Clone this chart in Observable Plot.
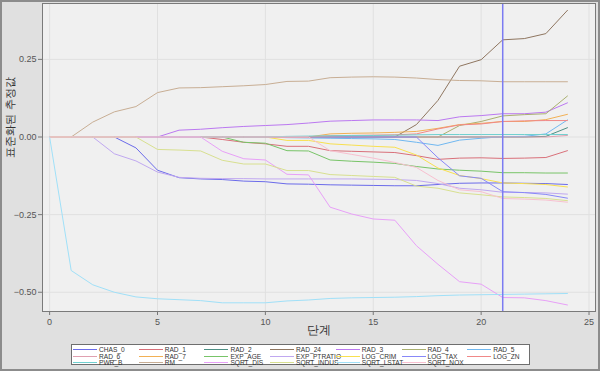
<!DOCTYPE html>
<html>
<head>
<meta charset="utf-8">
<script src="https://cdn.jsdelivr.net/npm/d3@7"></script>
<script src="https://cdn.jsdelivr.net/npm/@observablehq/plot@0.6"></script>
<style>
  html, body { margin: 0; padding: 0; }
  body { width: 600px; height: 371px; overflow: hidden; font-family: "Liberation Sans", Arial, sans-serif; }
  #wrap { position: relative; width: 600px; height: 371px; background: #e0e0e0; }
  #chart { position: absolute; left: 0; top: 0; }
  #border { position: absolute; left: 0; top: 0; width: 600px; height: 371px; box-sizing: border-box; border: 2px solid #8c8c8c; pointer-events: none; }
  #legend { position: absolute; left: 71px; top: 344px; width: 459px; height: 21px; box-sizing: border-box;
            background: #ffffff; border: 1px solid #6e6e6e; padding: 1px 0 0 1px; }
  .item { position: absolute; height: 7px; display: flex; align-items: center; font-size: 6.6px; line-height: 7px; color: #333; white-space: nowrap; }
  .item svg { display: block; margin-right: 2px; }
</style>
</head>
<body>
<div id="wrap">
  <div id="chart"></div>
  <div id="legend"></div>
  <div id="border"></div>
</div>
<script>
const steps = [0,1,2,3,4,5,6,7,8,9,10,11,12,13,14,15,16,17,18,19,20,21,22,23,24];

const seriesNames = ["CHAS_0","RAD_1","RAD_2","RAD_24","RAD_3","RAD_4","RAD_5",
                     "RAD_6","RAD_7","EXP_AGE","EXP_PTRATIO","LOG_CRIM","LOG_TAX","LOG_ZN",
                     "PWR_B","RM","SQRT_DIS","SQRT_INDUS","SQRT_LSTAT","SQRT_NOX"];

const seriesColors = ["#6b6bea","#d9707a","#4d8f84","#8f7660","#bb78f0","#aab070","#70b8f0",
                      "#e0a0b0","#f2b055","#78c468","#c0a8f0","#f8e050","#8888f8","#f08888",
                      "#70d0d0","#c8ae94","#e8a0f8","#d8e090","#a0e0f8","#f8c0d0"];

const CHAS_0      = [0,0,0,0,-0.035,-0.107,-0.131,-0.135,-0.137,-0.142,-0.144,-0.151,-0.152,-0.154,-0.155,-0.156,-0.157,-0.157,-0.153,-0.149,-0.148,-0.148,-0.149,-0.150,-0.153];
const RAD_1       = [0,0,0,0,0,0,0,0,-0.008,-0.017,-0.022,-0.030,-0.030,-0.044,-0.046,-0.048,-0.050,-0.060,-0.072,-0.068,-0.067,-0.069,-0.068,-0.066,-0.044];
const RAD_2       = [0,0,0,0,0,0,0,0,0,0,0,0,0,0,0,0,0,0,0,0,0,0,0,0.002,0.030];
const RAD_24      = [0,0,0,0,0,0,0,0,0,0,0,0,0,0,0,0,0,0.040,0.118,0.228,0.249,0.313,0.317,0.333,0.408];
const RAD_3       = [0,0,0,0,0,0,0.022,0.025,0.030,0.034,0.037,0.040,0.045,0.051,0.053,0.055,0.055,0.055,0.053,0.065,0.069,0.075,0.075,0.080,0.110];
const RAD_4       = [0,0,0,0,0,0,0,0,0,0,0,0,0,0,0,0,0,0,0,0.037,0.050,0.068,0.072,0.075,0.132];
const RAD_5       = [0,0,0,0,0,0,0,0,0,0,0,-0.002,-0.003,-0.004,-0.005,-0.006,-0.008,-0.017,-0.027,-0.010,-0.004,0.001,0.002,0.010,0.055];
const RAD_6       = [0,0,0,0,0,0,0,0,0,0,0,0,0,0,0,0,0,0,0,0,0,0,0,0,0.005];
const RAD_7       = [0,0,0,0,0,0,0,0,0,0,0,0,0,0.010,0.012,0.013,0.015,0.018,0.028,0.040,0.044,0.050,0.050,0.056,0.073];
const EXP_AGE     = [0,0,0,0,0,0,0,0,0,-0.017,-0.020,-0.044,-0.045,-0.074,-0.078,-0.081,-0.085,-0.095,-0.103,-0.107,-0.110,-0.115,-0.115,-0.116,-0.116];
const EXP_PTRATIO = [0,0,0,-0.054,-0.077,-0.113,-0.130,-0.133,-0.134,-0.134,-0.135,-0.135,-0.135,-0.135,-0.135,-0.136,-0.137,-0.140,-0.150,-0.165,-0.170,-0.178,-0.179,-0.180,-0.184];
const LOG_CRIM    = [0,0,0,0,0,0,0,0,0,0,0,-0.011,-0.011,-0.022,-0.026,-0.030,-0.033,-0.058,-0.100,-0.124,-0.134,-0.148,-0.150,-0.153,-0.161];
const LOG_TAX     = [0,0,0,0,0,0,0,0,0,0,0,0,0,0,0,0,0,0,-0.067,-0.125,-0.133,-0.176,-0.179,-0.185,-0.197];
const LOG_ZN      = [0,0,0,0,0,0,0,0,0,0,0,0,0,0.004,0.005,0.006,0.007,0.010,0.026,0.039,0.042,0.050,0.052,0.053,0.053];
const PWR_B       = [0,0,0,0,0,0,0,0,0,0,0,0.002,0.003,0.004,0.005,0.005,0.006,0.007,0.008,0.008,0.008,0.008,0.008,0.008,0.008];
const RM          = [0,0,0.048,0.081,0.098,0.143,0.158,0.159,0.162,0.165,0.169,0.179,0.180,0.191,0.193,0.194,0.193,0.190,0.185,0.182,0.181,0.178,0.178,0.178,0.178];
const SQRT_DIS    = [0,0,0,0,0,0,0,0,-0.046,-0.070,-0.074,-0.120,-0.122,-0.226,-0.248,-0.264,-0.268,-0.350,-0.410,-0.466,-0.474,-0.517,-0.518,-0.527,-0.541];
const SQRT_INDUS  = [0,0,0,0,0,-0.040,-0.042,-0.045,-0.075,-0.087,-0.087,-0.108,-0.108,-0.121,-0.124,-0.127,-0.130,-0.158,-0.165,-0.180,-0.186,-0.193,-0.195,-0.198,-0.205];
const SQRT_LSTAT  = [0,-0.430,-0.476,-0.500,-0.515,-0.521,-0.524,-0.527,-0.534,-0.534,-0.534,-0.528,-0.525,-0.520,-0.518,-0.517,-0.516,-0.514,-0.511,-0.509,-0.508,-0.507,-0.506,-0.505,-0.504];
const SQRT_NOX    = [0,0,0,0,0,0,0,0,0,0,0,0,0,-0.044,-0.056,-0.068,-0.082,-0.098,-0.140,-0.170,-0.176,-0.198,-0.200,-0.203,-0.210];

const xTicks = [0,5,10,15,20,25];
const yTicks = [-0.5,-0.25,0,0.25];
const selectedStep = [21];
const xLabel = "단계";
const yLabel = "표준화된 추정값";

const seriesValues = [CHAS_0,RAD_1,RAD_2,RAD_24,RAD_3,RAD_4,RAD_5,RAD_6,RAD_7,EXP_AGE,EXP_PTRATIO,
                      LOG_CRIM,LOG_TAX,LOG_ZN,PWR_B,RM,SQRT_DIS,SQRT_INDUS,SQRT_LSTAT,SQRT_NOX];

const rows = [];
seriesNames.forEach((name, i) => {
  steps.forEach((s, j) => rows.push({series: name, step: s, value: seriesValues[i][j]}));
});

const chart = Plot.plot({
  width: 600,
  height: 342,
  marginLeft: 42,
  marginRight: 5,
  marginTop: 3,
  marginBottom: 31,
  style: {background: "transparent", fontFamily: "Liberation Sans, Arial, sans-serif"},
  x: {domain: [-0.33, 25.3]},
  y: {domain: [-0.562, 0.43]},
  color: {domain: seriesNames, range: seriesColors},
  marks: [
    Plot.frame({fill: "#f0f0f0"}),
    Plot.gridX(xTicks, {stroke: "#e0e0e0", strokeOpacity: 1}),
    Plot.gridY(yTicks, {stroke: "#e0e0e0", strokeOpacity: 1}),
    Plot.line(rows, {x: "step", y: "value", z: "series", stroke: "series", strokeWidth: 1}),
    Plot.ruleX(selectedStep, {stroke: "#7b7bf2", strokeWidth: 1.5}),
    Plot.axisX(xTicks, {tickSize: 4, tickPadding: 3, fontSize: 9, color: "#555", stroke: "#777", label: null, tickFormat: d => String(d)}),
    Plot.axisY(yTicks, {tickSize: 4, tickPadding: 2, fontSize: 9, color: "#555", stroke: "#777", label: null, tickFormat: d3.format(".2f")}),
    Plot.frame({stroke: "#7a7a7a", strokeWidth: 1}),
    Plot.text([xLabel], {frameAnchor: "bottom", dy: 22, fontSize: 12, fill: "#333"}),
    Plot.text([yLabel], {frameAnchor: "left", dx: -32, rotate: -90, fontSize: 11, fill: "#333"})
  ]
});
document.getElementById("chart").appendChild(chart);

// legend: 7 columns, 3 rows
const legend = document.getElementById("legend");
const colW = 65.7, rowH = 6.6;
seriesNames.forEach((name, i) => {
  const col = i % 7, row = Math.floor(i / 7);
  const item = document.createElement("div");
  item.className = "item";
  item.style.left = (1 + col * colW) + "px";
  item.style.top = (1 + row * rowH) + "px";
  item.innerHTML = `<svg width="24" height="7"><line x1="0" x2="24" y1="3.5" y2="3.5" stroke="${seriesColors[i]}" stroke-width="1"/></svg><span>${name}</span>`;
  legend.appendChild(item);
});
</script>
</body>
</html>
